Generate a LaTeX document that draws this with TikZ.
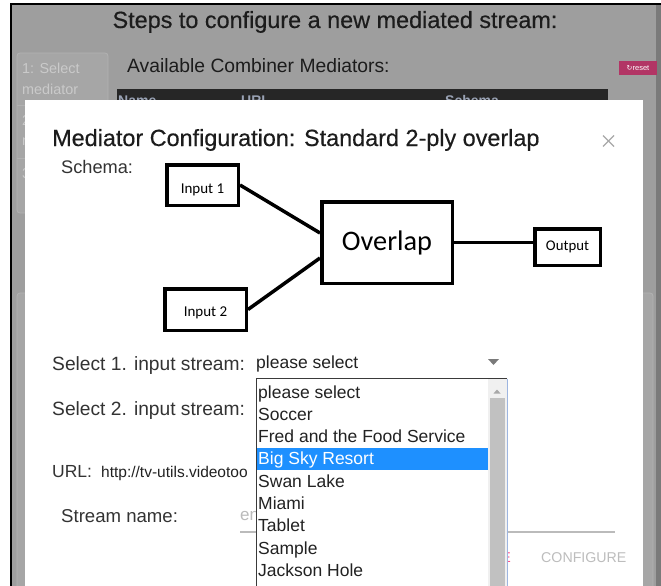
\documentclass[tikz,border=0pt]{standalone}
\usepackage{fontspec}
\setmainfont{Liberation Sans}
\newfontfamily\calib{Carlito}
\newfontfamily\djv{DejaVu Sans}
\newfontfamily\heavy[FakeBold=0.4]{Liberation Sans}
\usetikzlibrary{calc}
\definecolor{pagebg}{HTML}{9E9E9E}
\definecolor{panelbg}{HTML}{A6A6A6}
\definecolor{panelline}{HTML}{B2B2B2}
\definecolor{sidetext}{HTML}{CACACA}
\definecolor{headtxt}{HTML}{1C1C1C}
\definecolor{tablebar}{HTML}{262626}
\definecolor{tabletext}{HTML}{9AA3B5}
\definecolor{resetbg}{HTML}{B23565}
\definecolor{formtext}{HTML}{333333}
\definecolor{itemtext}{HTML}{222222}
\definecolor{hilite}{HTML}{1E90FF}
\definecolor{scrolltrack}{HTML}{F0F0F0}
\definecolor{scrollthumb}{HTML}{C1C1C1}
\definecolor{ddborder}{HTML}{3A3A3A}
\definecolor{ddblue}{HTML}{9DB5E0}
\definecolor{closegray}{HTML}{A8A8A8}
\definecolor{placeholder}{HTML}{BBBBBB}
\definecolor{pink}{HTML}{FF4F8B}
\definecolor{btngray}{HTML}{BDBDBD}
\definecolor{darkedge}{HTML}{7A7A7A}
\begin{document}
\begin{tikzpicture}[x=1pt,y=-1pt,
  txt/.style={inner sep=0pt, anchor=base west},
  lbl/.style={txt, text=formtext, font=\fontsize{19.2}{22}\selectfont},
  item/.style={txt, text=itemtext, font=\fontsize{17.5}{20}\selectfont},
  side/.style={txt, text=sidetext, font=\fontsize{14.4}{17}\selectfont},
  thead/.style={txt, text=tabletext, font=\bfseries\fontsize{14}{16}\selectfont},
  dbox/.style={draw=black, line width=3.5pt, inner sep=0pt, font=\calib},
  link/.style={draw=black, line width=3.5pt},
]
\useasboundingbox (0,0) rectangle (661,586);
\begin{scope}
\clip (0,0) rectangle (661,586);
% page background and frame
\fill[white] (0,0) rectangle (661,586);
\fill[pagebg] (11,4) rectangle (661,586);
\fill[darkedge] (656,4) rectangle (661,586);
\draw[black, line width=2pt] (11,600) -- (11,4) -- (661,4);
% page title
\node[txt, anchor=base, text=headtxt, font=\heavy\fontsize{23.4}{28}\selectfont] (title) at (335,28) {Steps to configure a new mediated stream:};
% side panel
\draw[panelline, fill=panelbg, rounded corners=3pt, line width=0.8pt] (17,53) rectangle (108,213);
\draw[panelline, line width=0.8pt] (17,105) -- (108,105);
\draw[panelline, line width=0.8pt] (17,158) -- (108,158);
\node[side] (s1a) at (22,74) {1: Select};
\node[side] (s1b) at (22,94) {mediator};
\node[side] (s2a) at (22,125) {2:};
\node[side] (s2b) at (22,145) {n};
\node[side] (s3a) at (22,178) {3:};
% lower panel behind modal
\draw[panelline, fill=panelbg, rounded corners=3pt, line width=0.8pt] (17,293) rectangle (653,620);
% available mediators
\node[txt, text=headtxt, font=\fontsize{19.3}{23}\selectfont] (avail) at (127,73) {Available Combiner Mediators:};
\node[fill=resetbg, inner sep=0pt, minimum width=38pt, minimum height=14pt, text=white, font=\fontsize{7.5}{8}\selectfont] (reset) at (638,68) {{\djv\fontsize{7}{8}\selectfont ↻}reset};
\fill[tablebar] (117,89) rectangle (608,110);
\node[thead] (hname) at (118,105) {Name};
\node[thead] (hurl) at (241,105) {URL};
\node[thead] (hschema) at (445,105) {Schema};
% modal
\fill[white] (25,100) rectangle (643,620);
\node[txt, text=headtxt, font=\heavy\fontsize{23.4}{28}\selectfont] (mtitle) at (52,146) {Mediator Configuration: Standard 2-ply overlap};
\coordinate (xc) at (608.5,141);
\draw[closegray, line width=1.2pt] ($(xc)+(-5.5,-5.5)$) -- ($(xc)+(5.5,5.5)$);
\draw[closegray, line width=1.2pt] ($(xc)+(-5.5,5.5)$) -- ($(xc)+(5.5,-5.5)$);
\node[txt, text=formtext, font=\fontsize{18.2}{21}\selectfont] (schema) at (61,173) {Schema:};
% schema diagram
\node[dbox, minimum width=71.5pt, minimum height=40.5pt, text height=17.6pt, text depth=0pt, font=\calib\fontsize{15}{17}\selectfont] (in1) at (202.5,185) {Input 1};
\node[dbox, minimum width=81.5pt, minimum height=41.5pt, text height=14.6pt, text depth=0pt, font=\calib\fontsize{15}{17}\selectfont] (in2) at (205.5,309.5) {Input 2};
\node[dbox, minimum width=130.5pt, minimum height=81.5pt, font=\calib\fontsize{28.3}{32}\selectfont] (ov) at (387,242.5) {Overlap};
\node[dbox, minimum width=65.5pt, minimum height=36.5pt, font=\calib\fontsize{14.8}{17}\selectfont] (out) at (567.5,247) {Output};
\draw[link] (in1.east) -- ([yshift=9.5pt]ov.west);
\draw[link] (in2.east) -- ([yshift=-15.5pt]ov.west);
\draw[link] (ov.east) -- (ov.east -| out.west);
% form
\node[lbl] (sel1) at (52,370) {Select 1. input stream:};
\node[item, text=itemtext] (sel1v) at (256,368) {please select};
\fill[darkedge] (488,359) -- (499,359) -- (493.5,365) -- cycle;
\node[lbl] (sel2) at (52,415) {Select 2. input stream:};
\node[lbl, font=\fontsize{17.5}{21}\selectfont] (url) at (52,477) {URL:};
\node[txt, text=itemtext, font=\fontsize{15.5}{18}\selectfont] (urlv) at (101,477) {http://tv-utils.videotoo};
\node[lbl, font=\fontsize{18.6}{22}\selectfont] (sname) at (61,522) {Stream name:};
\node[txt, text=placeholder, font=\fontsize{17}{20}\selectfont] (ph) at (240,520) {en};
\draw[placeholder, line width=1.3pt] (240,532) -- (615,532);
\node[txt, anchor=base east, text=pink, font=\fontsize{14.2}{17}\selectfont] (closebtn) at (511,562) {CLOSE};
\node[txt, text=btngray, font=\fontsize{14.2}{17}\selectfont] (conf) at (541,562) {CONFIGURE};
% dropdown list
\fill[white] (256,378.5) rectangle (507,620);
\fill[scrolltrack] (488,379) rectangle (506.5,620);
\fill[scrollthumb] (489.5,398) rectangle (505,620);
\fill[closegray] (493.5,393.5) -- (500.5,393.5) -- (497,389.5) -- cycle;
\fill[hilite] (257,447.5) rectangle (487.5,469.5);
\draw[ddborder, line width=1pt] (256.5,620) -- (256.5,378.5) -- (507,378.5);
\draw[ddblue, line width=1pt] (507,378.5) -- (507,620);
\node[item] (it0) at (258,398) {please select};
\node[item] (it1) at (258,420.3) {Soccer};
\node[item] (it2) at (258,442.6) {Fred and the Food Service};
\node[item, text=white] (it3) at (258,464.9) {Big Sky Resort};
\node[item] (it4) at (258,487.2) {Swan Lake};
\node[item] (it5) at (258,509.5) {Miami};
\node[item] (it6) at (258,531.8) {Tablet};
\node[item] (it7) at (258,554.1) {Sample};
\node[item] (it8) at (258,576.4) {Jackson Hole};
\end{scope}
\end{tikzpicture}
\end{document}
